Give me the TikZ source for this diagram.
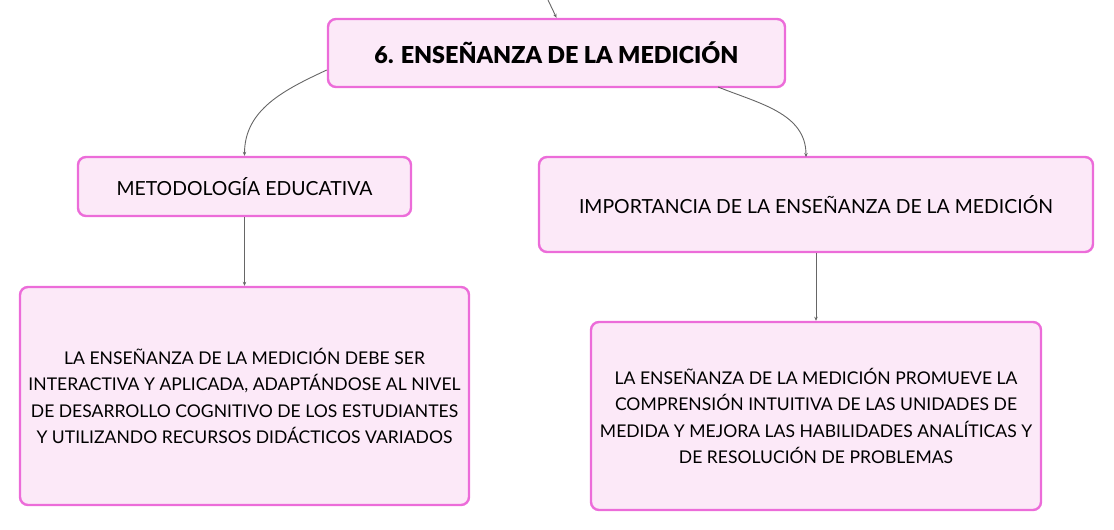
\documentclass[tikz,border=0pt]{standalone}
\usepackage{fontspec}
\setmainfont{Lato}
\newfontfamily\titlefont{Lato Black}
\usetikzlibrary{positioning,arrows.meta}
\definecolor{pinkline}{HTML}{EC6CD9}
\definecolor{pinkfill}{HTML}{FCE9F8}
\definecolor{wire}{HTML}{666666}

\begin{document}
\begin{tikzpicture}[
    x=1bp, y=1bp,
    block/.style={rectangle, draw=pinkline, fill=pinkfill, line width=2.4bp, rounded corners=8bp, inner sep=0pt, align=center, font=\fontsize{17.6}{26.5}\selectfont},
    arrow/.style={-{Stealth[length=4bp, width=3.5bp]}, draw=wire, line width=0.9bp}
]
\useasboundingbox (0,0) rectangle (1114,530);

% Blocks
\node[block, minimum width=457bp, minimum height=68bp, font=\fontsize{23.4}{26}\titlefont] (title) at (556.5,477) {6. ENSEÑANZA DE LA MEDICIÓN};
\node[block, minimum width=333bp, minimum height=59bp, font=\fontsize{19.5}{22}\selectfont] (metod) at (244.5,343.5) {METODOLOGÍA EDUCATIVA};
\node[block, minimum width=554bp, minimum height=95bp, font=\fontsize{19.5}{22}\selectfont] (import) at (816,325.5) {IMPORTANCIA DE LA ENSEÑANZA DE LA MEDICIÓN};
\node[block, minimum width=449bp, minimum height=218bp] (metodtxt) at (244.5,134) {LA ENSEÑANZA DE LA MEDICIÓN DEBE SER\\INTERACTIVA Y APLICADA, ADAPTÁNDOSE AL NIVEL\\DE DESARROLLO COGNITIVO DE LOS ESTUDIANTES\\Y UTILIZANDO RECURSOS DIDÁCTICOS VARIADOS};
\node[block, minimum width=450bp, minimum height=188bp] (importtxt) at (816,114) {LA ENSEÑANZA DE LA MEDICIÓN PROMUEVE LA\\COMPRENSIÓN INTUITIVA DE LAS UNIDADES DE\\MEDIDA Y MEJORA LAS HABILIDADES ANALÍTICAS Y\\DE RESOLUCIÓN DE PROBLEMAS};

% Incoming signal
\coordinate (input) at (548,530);

% Arrows
\draw[arrow] (input) -- (title.north);
\draw[arrow] (title.west |- 0,460) to[out=205, in=90] (metod.north);
\draw[arrow] (718,443) to[out=-22, in=90] (806,373);
\draw[arrow] (metod.south) -- (metodtxt.north);
\draw[arrow] (import.south) -- (importtxt.north);

\end{tikzpicture}
\end{document}
